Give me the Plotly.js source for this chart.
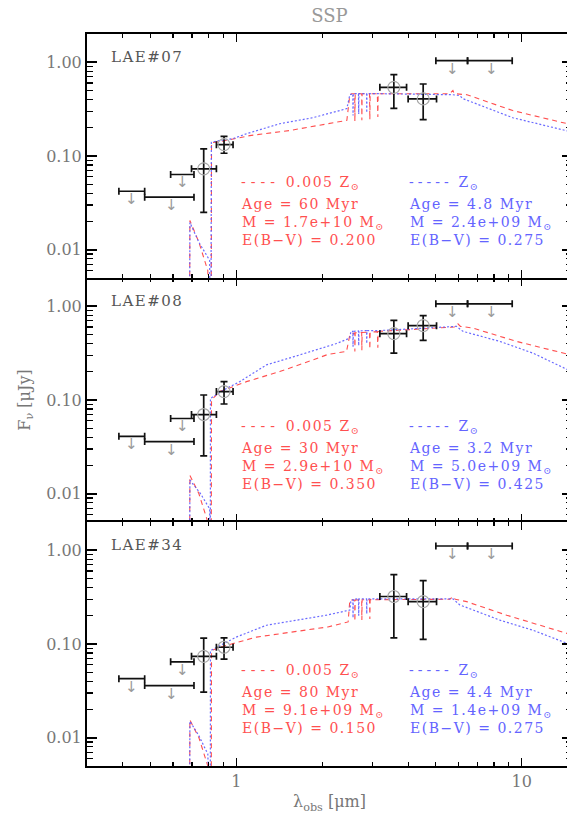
<!DOCTYPE html>
<html><head><meta charset="utf-8">
<script src="https://cdn.plot.ly/plotly-3.0.1.min.js"></script>
<style>html,body{margin:0;padding:0;overflow:hidden;background:#fff}#chart{width:572px;height:819px}
.annotation-text{letter-spacing:1.5px}</style>
</head><body><div id="chart"></div>
<script>
// ---------- photometric bands (micron) ----------
const detLam   = [0.769, 0.906, 3.565, 4.516];
const detLamLo = [0.697, 0.852, 3.184, 4.00];
const detLamHi = [0.852, 0.9745, 3.95, 5.03];
const ulLam    = [0.4327, 0.5975, 0.651, 5.73, 7.88];
const ulLamLo  = [0.388, 0.4777, 0.589, 5.003, 6.46];
const ulLamHi  = [0.4777, 0.711, 0.711, 6.46, 9.26];

// ---------- objects ----------
const names = ["LAE#07", "LAE#08", "LAE#34"];
const detF   = [[0.073, 0.132, 0.54, 0.406], [0.070, 0.123, 0.51, 0.621], [0.0738, 0.0923, 0.321, 0.283]];
const detFHi = [[0.119, 0.162, 0.736, 0.586], [0.113, 0.157, 0.708, 0.795], [0.1155, 0.1164, 0.55, 0.474]];
const detFLo = [[0.025, 0.107, 0.322, 0.244], [0.0253, 0.0906, 0.316, 0.432], [0.0306, 0.069, 0.116, 0.112]];
const ulF    = [[0.0421, 0.0364, 0.0635, 1.04, 1.04], [0.041, 0.036, 0.0635, 1.06, 1.06], [0.0427, 0.036, 0.0646, 1.11, 1.11]];

// ---------- model SEDs ----------
const red07Lam = [0.66,0.686,0.688,0.74,0.795,0.80,0.817,0.819,0.875,1.115,1.54,2.251,2.44,2.50,2.54,2.60,2.603,2.61,2.75,2.754,2.76,2.93,2.937,2.945,3.12,3.133,3.14,5.60,5.74,5.80,6.43,9.3,15];
const red07F   = [0.001,0.001,0.0205,0.012,0.006,0.001,0.001,0.139,0.142,0.165,0.187,0.227,0.24,0.45,0.462,0.462,0.235,0.462,0.462,0.24,0.462,0.462,0.245,0.462,0.462,0.26,0.462,0.462,0.50,0.462,0.45,0.305,0.215];
const blue07Lam = [0.66,0.686,0.688,0.74,0.807,0.81,0.815,0.818,0.861,0.972,1.088,1.42,1.854,2.44,2.50,2.54,2.56,2.565,2.57,2.68,2.685,2.69,2.86,2.865,2.87,3.18,4.4,5.74,6.07,6.22,9.3,15];
const blue07F   = [0.001,0.001,0.0195,0.012,0.0077,0.001,0.001,0.14,0.145,0.153,0.173,0.221,0.256,0.32,0.45,0.462,0.462,0.27,0.462,0.462,0.28,0.462,0.462,0.29,0.462,0.462,0.455,0.45,0.44,0.409,0.256,0.18];
const red08Lam = [0.66,0.686,0.688,0.74,0.795,0.80,0.817,0.819,0.875,1.086,1.42,1.859,2.093,2.434,2.50,2.60,2.603,2.61,2.75,2.754,2.76,2.93,2.937,2.945,3.12,3.133,3.14,3.18,5.8,5.976,6.1,6.745,9.6,15];
const red08F   = [0.001,0.001,0.0157,0.01,0.005,0.001,0.001,0.10,0.123,0.157,0.201,0.268,0.306,0.33,0.497,0.52,0.33,0.52,0.525,0.34,0.525,0.53,0.35,0.53,0.535,0.36,0.535,0.54,0.60,0.65,0.61,0.585,0.421,0.30];
const blue08Lam = [0.66,0.686,0.688,0.75,0.807,0.81,0.811,0.812,0.924,1.029,1.276,1.582,2.071,2.245,2.50,2.52,2.56,2.565,2.57,2.68,2.685,2.69,2.86,2.865,2.87,3.18,5.91,6.22,8.39,10.95,15];
const blue08F   = [0.001,0.001,0.014,0.01,0.0069,0.001,0.001,0.104,0.133,0.157,0.237,0.288,0.37,0.40,0.457,0.54,0.54,0.37,0.54,0.545,0.38,0.545,0.55,0.40,0.55,0.55,0.61,0.54,0.421,0.316,0.20];
const red34Lam = [0.66,0.686,0.688,0.74,0.795,0.80,0.817,0.819,0.875,1.177,1.582,2.093,2.465,2.50,2.60,2.603,2.61,2.75,2.754,2.76,2.93,2.937,2.945,3.18,5.6,5.74,5.85,6.41,8.85,15];
const red34F   = [0.001,0.001,0.0155,0.01,0.005,0.001,0.001,0.085,0.0923,0.1185,0.134,0.152,0.172,0.295,0.295,0.175,0.295,0.296,0.18,0.296,0.296,0.185,0.297,0.297,0.30,0.32,0.30,0.283,0.203,0.125];
const blue34Lam = [0.66,0.686,0.688,0.74,0.795,0.80,0.811,0.812,1.0,1.276,1.582,2.071,2.50,2.52,2.56,2.565,2.57,2.68,2.685,2.69,2.86,2.865,2.87,5.74,6.07,8.39,10.97,15];
const blue34F   = [0.001,0.001,0.015,0.0105,0.0067,0.001,0.001,0.085,0.1185,0.1585,0.176,0.203,0.23,0.283,0.30,0.19,0.30,0.303,0.20,0.303,0.303,0.21,0.303,0.303,0.261,0.1795,0.14,0.097];
const redLam = [red07Lam, red08Lam, red34Lam], redF = [red07F, red08F, red34F];
const blueLam = [blue07Lam, blue08Lam, blue34Lam], blueF = [blue07F, blue08F, blue34F];

// ---------- fit parameters (text) ----------
const redAge = ["60", "30", "80"], blueAge = ["4.8", "3.2", "4.4"];
const redMass = ["1.7e+10", "2.9e+10", "9.1e+09"], blueMass = ["2.4e+09", "5.0e+09", "1.4e+09"];
const redEbv = ["0.200", "0.350", "0.150"], blueEbv = ["0.275", "0.425", "0.275"];

// ---------- build ----------
const FONT = "DejaVu Serif";
const RED = "rgba(255,60,60,0.9)", BLUE = "rgba(90,90,255,0.9)";
const RED_T = "#ff5050", BLUE_T = "#6464ff";
const traces = [], annotations = [];
const PX = 244; // panel height px
for (let i = 0; i < 3; i++) {
  const xa = i === 0 ? "x" : "x" + (i + 1), ya = i === 0 ? "y" : "y" + (i + 1);
  traces.push({x: redLam[i], y: redF[i], xaxis: xa, yaxis: ya, mode: "lines",
    line: {color: RED, width: 1.1, dash: "5px,4px"}, hoverinfo: "skip"});
  traces.push({x: blueLam[i], y: blueF[i], xaxis: xa, yaxis: ya, mode: "lines",
    line: {color: BLUE, width: 1.2, dash: "2px,2px"}, hoverinfo: "skip"});
  // upper limits: horizontal bars
  traces.push({x: ulLam, y: ulF[i], xaxis: xa, yaxis: ya, mode: "markers",
    marker: {color: "rgba(0,0,0,0)", size: 2},
    error_x: {type: "data", symmetric: false,
      array: ulLam.map((v, k) => ulLamHi[k] - v), arrayminus: ulLam.map((v, k) => v - ulLamLo[k]),
      color: "#111", thickness: 1.7, width: 3.5}});
  // detections
  traces.push({x: detLam, y: detF[i], xaxis: xa, yaxis: ya, mode: "markers",
    marker: {symbol: "circle-open", size: 12, color: "#a8a8a8", line: {width: 1.2, color: "#a8a8a8"}},
    error_x: {type: "data", symmetric: false,
      array: detLam.map((v, k) => detLamHi[k] - v), arrayminus: detLam.map((v, k) => v - detLamLo[k]),
      color: "#111", thickness: 1.7, width: 3.5},
    error_y: {type: "data", symmetric: false,
      array: detF[i].map((v, k) => detFHi[i][k] - v), arrayminus: detF[i].map((v, k) => v - detFLo[i][k]),
      color: "#111", thickness: 1.7, width: 3.5}});
  // upper-limit arrows (drawn as arrow glyphs hanging below each limit)
  ulLam.forEach((v, k) => annotations.push({x: Math.log10(v), y: Math.log10(ulF[i][k]), xref: xa, yref: ya,
    text: "↓", showarrow: false, xanchor: "center", yanchor: "top", yshift: 3,
    font: {family: "DejaVu Sans", size: 15, color: "#9a9a9a"}}));
  // panel label
  const yd = ya + " domain";
  const yy = off => 1 - off / PX;
  annotations.push({xref: "paper", yref: yd, x: (109 - 87) / 485, y: yy(23), xanchor: "left", yanchor: "middle",
    text: names[i], showarrow: false, font: {family: FONT, size: 15, color: "#555"}});
  // model legends / parameters
  annotations.push({xref: "paper", yref: yd, x: (239 - 87) / 485, y: yy(148.5), xanchor: "left", yanchor: "middle",
    text: '<span style="letter-spacing:5px">----</span> 0.005 Z<sub>⊙</sub>', showarrow: false,
    font: {family: FONT, size: 14, color: RED_T}});
  annotations.push({xref: "paper", yref: yd, x: (407 - 87) / 485, y: yy(148.5), xanchor: "left", yanchor: "middle",
    text: '<span style="letter-spacing:4px">-----</span> Z<sub>⊙</sub>', showarrow: false,
    font: {family: FONT, size: 14, color: BLUE_T}});
  annotations.push({xref: "paper", yref: yd, x: (239 - 87) / 485, y: yy(187.5), xanchor: "left", yanchor: "middle", align: "left",
    text: "Age = " + redAge[i] + " Myr<br>M = " + redMass[i] + " M<sub>⊙</sub><br>E(B−V) = " + redEbv[i],
    showarrow: false, font: {family: FONT, size: 14, color: RED_T}});
  annotations.push({xref: "paper", yref: yd, x: (407 - 87) / 485, y: yy(187.5), xanchor: "left", yanchor: "middle", align: "left",
    text: "Age = " + blueAge[i] + " Myr<br>M = " + blueMass[i] + " M<sub>⊙</sub><br>E(B−V) = " + blueEbv[i],
    showarrow: false, font: {family: FONT, size: 14, color: BLUE_T}});
}

const minorY = [], minorX = [];
[0.001, 0.01, 0.1, 1].forEach(d => { for (let m = 2; m <= 9; m++) minorY.push(m * d); });
[0.1, 1].forEach(d => { for (let m = 2; m <= 9; m++) minorX.push(m * d); });

function xAxis(i) {
  return {type: "log", range: [Math.log10(0.3), Math.log10(15)], anchor: i === 0 ? "y" : "y" + (i + 1),
    matches: i === 0 ? undefined : "x",
    tickvals: [1, 10], ticktext: ["1", "10"], showticklabels: i === 2,
    ticks: "inside", ticklen: 8, tickwidth: 1.5, tickcolor: "#000",
    minor: {tickvals: minorX, ticks: "inside", ticklen: 4, tickwidth: 1.2, tickcolor: "#000"},
    showline: i !== 1, linecolor: "#000", linewidth: 2, mirror: "allticks", showgrid: false, zeroline: false,
    tickfont: {family: FONT, size: 16, color: "#777"},
    title: i === 2 ? {text: "λ<sub>obs</sub> [μm]", font: {family: FONT, size: 16, color: "#777"}, standoff: 6} : undefined};
}
function yAxis(i) {
  const dom = [[2 / 3, 1], [1 / 3, 2 / 3], [0, 1 / 3]][i];
  return {type: "log", range: [Math.log10(0.005), Math.log10(2)], domain: dom, anchor: i === 0 ? "x" : "x" + (i + 1),
    tickvals: [0.01, 0.1, 1], ticktext: ["0.01", "0.10", "1.00"],
    ticks: "inside", ticklen: 10, tickwidth: 1.5, tickcolor: "#000",
    minor: {tickvals: minorY, ticks: "inside", ticklen: 6, tickwidth: 1.2, tickcolor: "#000"},
    showline: true, linecolor: "#000", linewidth: 2, mirror: "allticks", showgrid: false, zeroline: false,
    tickfont: {family: FONT, size: 16, color: "#777"},
    title: i === 1 ? {text: "F<sub>ν</sub> [μJy]", font: {family: FONT, size: 16, color: "#777"}, standoff: 12} : undefined};
}

const layout = {
  width: 572, height: 819, margin: {l: 87, r: 0, t: 34, b: 53},
  paper_bgcolor: "#fff", plot_bgcolor: "#fff", showlegend: false,
  font: {family: FONT},
  title: {text: "SSP", font: {family: FONT, size: 18, color: "#999"}, x: 0.5, xref: "paper",
    y: 1 - 16 / 819, yref: "container", yanchor: "middle"},
  xaxis: xAxis(0), xaxis2: xAxis(1), xaxis3: xAxis(2),
  yaxis: yAxis(0), yaxis2: yAxis(1), yaxis3: yAxis(2),
  annotations: annotations
};
Plotly.newPlot("chart", traces, layout, {staticPlot: true, displayModeBar: false});
</script></body></html>
